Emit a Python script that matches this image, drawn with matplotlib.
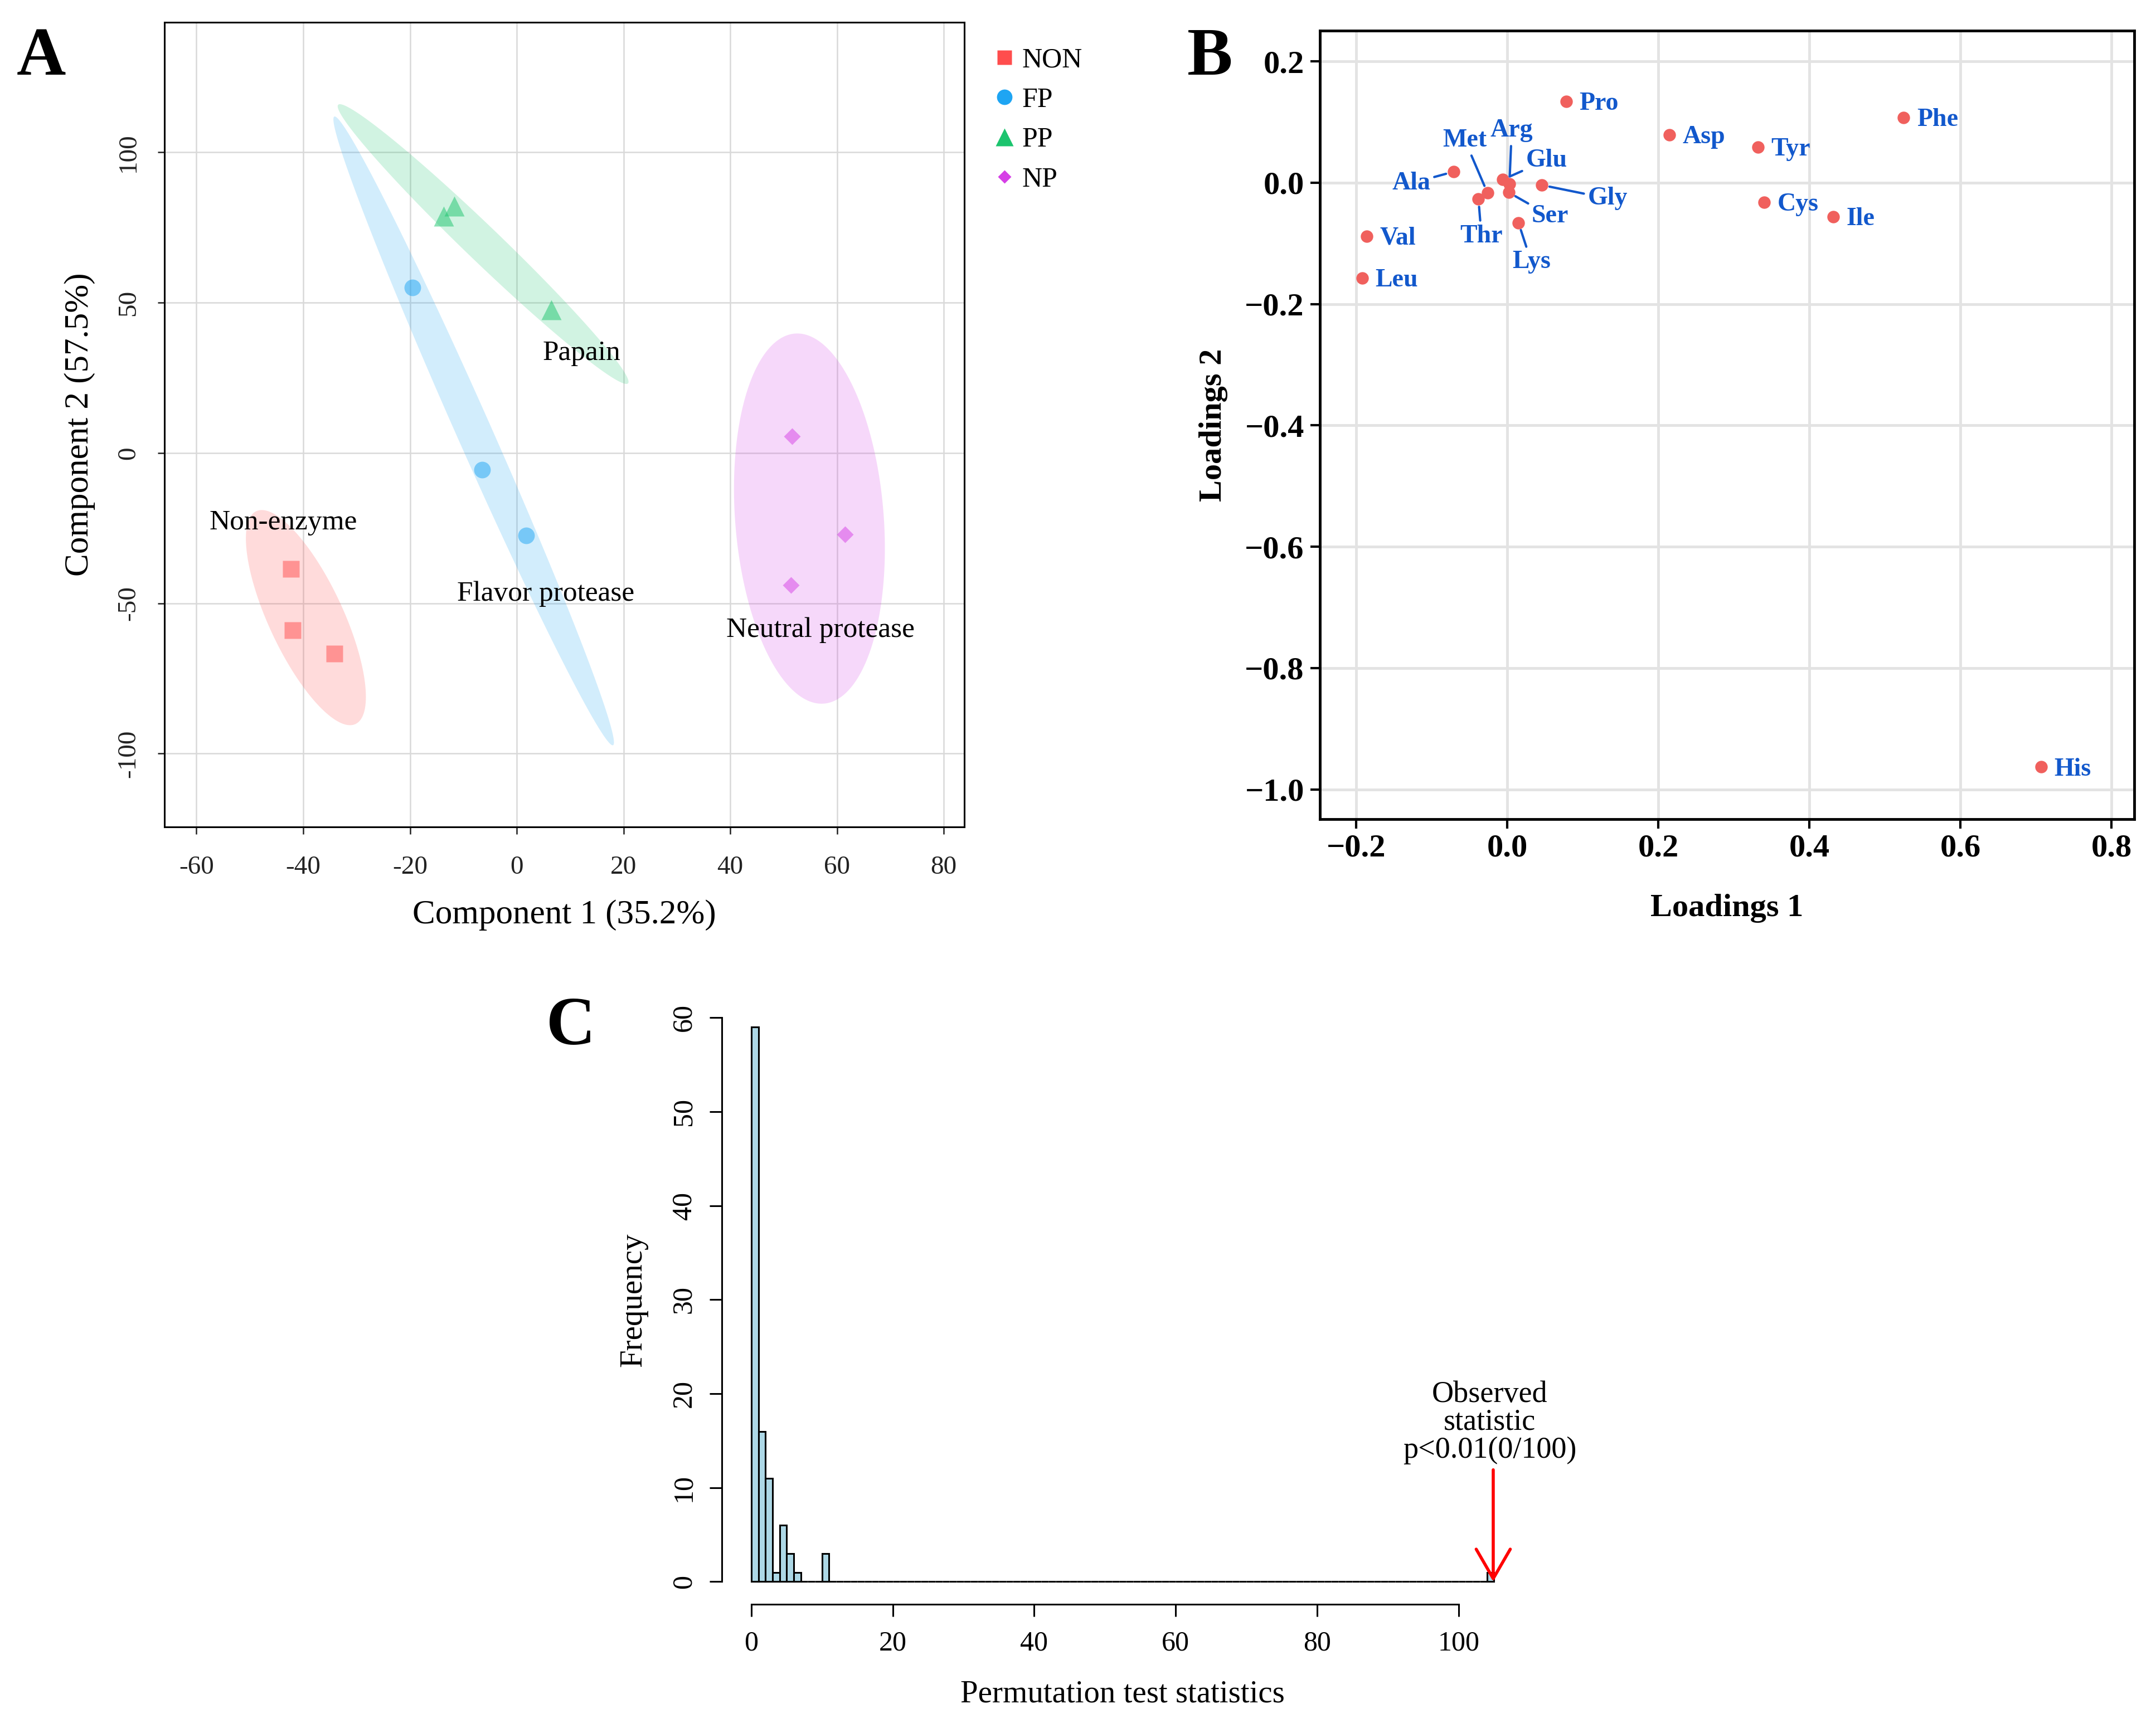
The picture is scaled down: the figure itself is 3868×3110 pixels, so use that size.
import numpy as np
import matplotlib
matplotlib.use("Agg")
import matplotlib.pyplot as plt
from matplotlib.lines import Line2D

# ---------------- data ----------------
# Panel A: PLS-DA scores
groups = ["NON", "FP", "PP", "NP"]
non_x = [-42.3, -42.0, -34.2]
non_y = [-38.5, -59.0, -66.8]
fp_x = [-19.5, -6.5, 1.8]
fp_y = [55.0, -5.5, -27.5]
pp_x = [-13.7, -11.7, 6.5]
pp_y = [78.8, 82.0, 47.6]
np_x = [51.6, 61.5, 51.4]
np_y = [5.5, -27.0, -44.0]
group_names = ["Non-enzyme", "Flavor protease", "Papain", "Neutral protease"]
xlabel_a = "Component 1 (35.2%)"
ylabel_a = "Component 2 (57.5%)"
xticks_a = [-60, -40, -20, 0, 20, 40, 60, 80]
xticklabels_a = ["-60", "-40", "-20", "0", "20", "40", "60", "80"]
yticks_a = [-100, -50, 0, 50, 100]
yticklabels_a = ["-100", "-50", "0", "50", "100"]

# Panel B: loadings
amino_acids = ["Pro", "Asp", "Tyr", "Phe", "Cys", "Ile", "His", "Val", "Leu",
               "Ala", "Lys", "Gly", "Glu", "Arg", "Ser", "Met", "Thr"]
loading1 = [0.078, 0.215, 0.332, 0.525, 0.340, 0.432, 0.707, -0.186, -0.192,
            -0.071, 0.015, 0.046, -0.006, 0.003, 0.002, -0.026, -0.038]
loading2 = [0.134, 0.079, 0.059, 0.107, -0.032, -0.056, -0.963, -0.088, -0.157,
            0.018, -0.066, -0.004, 0.005, -0.002, -0.016, -0.017, -0.027]

# Panel C: permutation test histogram (bin width 1)
perm_bins = [0, 1, 2, 3, 4, 5, 6, 10, 104]
perm_counts = [59, 16, 11, 1, 6, 3, 1, 3, 1]
observed_stat = 104.9
p_text = "Observed\nstatistic\np<0.01(0/100)"

# ---------------- style ----------------
SERIF = ["Liberation Serif", "DejaVu Serif"]
plt.rcParams["font.family"] = SERIF
colors = {"NON": "#FF4D4D", "FP": "#1EA5F3", "PP": "#1CC46E", "NP": "#D63FE6"}
markers = {"NON": "s", "FP": "o", "PP": "^", "NP": "D"}
msizes = {"NON": 21.5, "FP": 21.5, "PP": 26, "NP": 15}
leg_sizes = {"NON": 19, "FP": 20, "PP": 23, "NP": 12.5}

fig = plt.figure(figsize=(38.68, 31.10), dpi=100)

# ================= Panel A =================
axA = fig.add_axes([0.07627, 0.5228, 0.3710, 0.4643])
xs = [non_x, fp_x, pp_x, np_x]
ys = [non_y, fp_y, pp_y, np_y]
chi2_95 = 5.991
for g, x, y in zip(groups, xs, ys):
    x = np.asarray(x); y = np.asarray(y)
    cov = np.cov(x, y)
    vals, vecs = np.linalg.eigh(cov)
    order = vals.argsort()[::-1]
    vals, vecs = vals[order], vecs[:, order]
    w, h = 2 * np.sqrt(chi2_95 * vals)
    t = np.linspace(0, 2 * np.pi, 300)
    pts = np.stack([np.cos(t) * w / 2, np.sin(t) * h / 2])
    xy = vecs @ pts
    axA.fill(xy[0] + x.mean(), xy[1] + y.mean(), color=colors[g], alpha=0.2,
             lw=0, zorder=2)
    axA.plot(x, y, linestyle="none", marker=markers[g], ms=msizes[g],
             color=colors[g], alpha=0.5, mec="none", zorder=3)

label_pos = [(-43.7, -23.2), (5.4, -46.9), (12.2, 33.1), (56.9, -59.0)]
for name, (lx, ly) in zip(group_names, label_pos):
    axA.text(lx, ly, name, ha="center", va="center", fontsize=37, zorder=4)

axA.set_xlim(-66, 83.85)
axA.set_ylim(-124.4, 143.2)
axA.set_xticks(xticks_a)
axA.set_xticklabels(xticklabels_a)
axA.set_yticks(yticks_a)
axA.set_yticklabels(yticklabels_a, rotation=90, va="center")
axA.grid(True, color="#D9D9D9", lw=1.8, zorder=0)
axA.set_axisbelow(True)
axA.tick_params(axis="both", labelsize=34, length=9, width=1.8, colors="#222222")
axA.tick_params(axis="x", pad=28)
axA.tick_params(axis="y", pad=22)
for s in axA.spines.values():
    s.set_linewidth(2.2)
axA.set_xlabel(xlabel_a, fontsize=44, labelpad=26)
axA.set_ylabel(ylabel_a, fontsize=44, labelpad=28)

handles = [Line2D([], [], linestyle="none", marker=markers[g], color=colors[g],
                  mec="none", ms=leg_sizes[g]) for g in groups]
axA.legend(handles, groups, loc="upper left", bbox_to_anchor=(1.025, 0.983),
           frameon=False, fontsize=36, handlelength=0.65, handletextpad=0.3,
           labelspacing=0.5, borderaxespad=0)

# ================= Panel B =================
axB = fig.add_axes([0.6121, 0.5273, 0.3779, 0.4550])
axB.scatter(loading1, loading2, s=260, color="#F0605D", zorder=3, lw=0)
blue = "#1258CC"
repel = {"Ala": (-0.127, -0.001), "Lys": (0.032, -0.131), "Gly": (0.133, -0.026),
         "Glu": (0.052, 0.037), "Arg": (0.006, 0.086), "Ser": (0.057, -0.055),
         "Met": (-0.056, 0.070), "Thr": (-0.034, -0.088)}
for aa, lx, ly in zip(amino_acids, loading1, loading2):
    if aa in repel:
        tx, ty = repel[aa]
        axB.annotate(aa, xy=(lx, ly), xytext=(tx, ty), ha="center", va="center",
                     fontsize=33, fontweight="bold", color=blue, zorder=4,
                     arrowprops=dict(arrowstyle="-", color=blue, lw=3,
                                     shrinkA=3, shrinkB=10))
    else:
        axB.annotate(aa, xy=(lx, ly), xytext=(17, -3), textcoords="offset points",
                     ha="left", va="center", fontsize=33, fontweight="bold",
                     color=blue, zorder=4)
axB.set_xlim(-0.2482, 0.8305)
axB.set_ylim(-1.049, 0.2505)
axB.set_xticks([-0.2, 0.0, 0.2, 0.4, 0.6, 0.8])
axB.set_yticks([0.2, 0.0, -0.2, -0.4, -0.6, -0.8, -1.0])
axB.grid(True, color="#E3E3E3", lw=3.5, zorder=0)
axB.set_axisbelow(True)
axB.tick_params(axis="both", labelsize=42, length=12, width=3)
axB.tick_params(axis="x", pad=7)
axB.tick_params(axis="y", pad=8)
for lab in axB.get_xticklabels() + axB.get_yticklabels():
    lab.set_fontweight("bold")
for s in axB.spines.values():
    s.set_linewidth(3.5)
axB.set_xlabel("Loadings 1", fontsize=42, fontweight="bold", labelpad=40)
axB.set_ylabel("Loadings 2", fontsize=42, fontweight="bold", labelpad=22)

# ================= Panel C =================
axC = fig.add_axes([0.3347, 0.0743, 0.3720, 0.3515])
edges = np.arange(0, 106)
counts = np.zeros(len(edges) - 1)
for b, c in zip(perm_bins, perm_counts):
    counts[b] = c
axC.bar(edges[:-1], counts, width=1, align="edge", color="#ADD8E6",
        edgecolor="black", lw=2.2, zorder=2)
axC.annotate("", xy=(observed_stat, 0), xytext=(observed_stat, 11.9),
             arrowprops=dict(arrowstyle="->,head_length=0.95,head_width=0.55",
                             color="red", lw=4, mutation_scale=40,
                             shrinkA=0, shrinkB=0), zorder=5)
axC.text(104.4, 12.5, p_text, ha="center", va="bottom", fontsize=39,
         linespacing=0.98)
axC.set_xlim(-4.2, 109.2)
axC.set_ylim(-2.4, 62.4)
for side in ["top", "right"]:
    axC.spines[side].set_visible(False)
axC.spines["left"].set_bounds(0, 60)
axC.spines["bottom"].set_bounds(0, 100)
axC.spines["left"].set_linewidth(2.2)
axC.spines["bottom"].set_linewidth(2.2)
axC.set_xticks([0, 20, 40, 60, 80, 100])
axC.set_yticks([0, 10, 20, 30, 40, 50, 60])
axC.set_yticklabels(["0", "10", "20", "30", "40", "50", "60"], rotation=90, va="center")
axC.tick_params(axis="both", labelsize=36, length=16, width=2.2)
axC.tick_params(axis="x", pad=18)
axC.tick_params(axis="y", pad=16)
axC.set_xlabel("Permutation test statistics", fontsize=41, labelpad=30)
axC.set_ylabel("Frequency", fontsize=41, labelpad=30)

# panel letters
fig.text(74 / 3868, 1 - 104 / 3110, "A", fontsize=88, fontweight="bold",
         ha="center", va="center")
fig.text(2171 / 3868, 1 - 104 / 3110, "B", fontsize=88, fontweight="bold",
         ha="center", va="center")
fig.text(1024 / 3868, 1 - 1845 / 3110, "C", fontsize=88, fontweight="bold",
         ha="center", va="center")

fig.savefig("out.png", dpi=100)
